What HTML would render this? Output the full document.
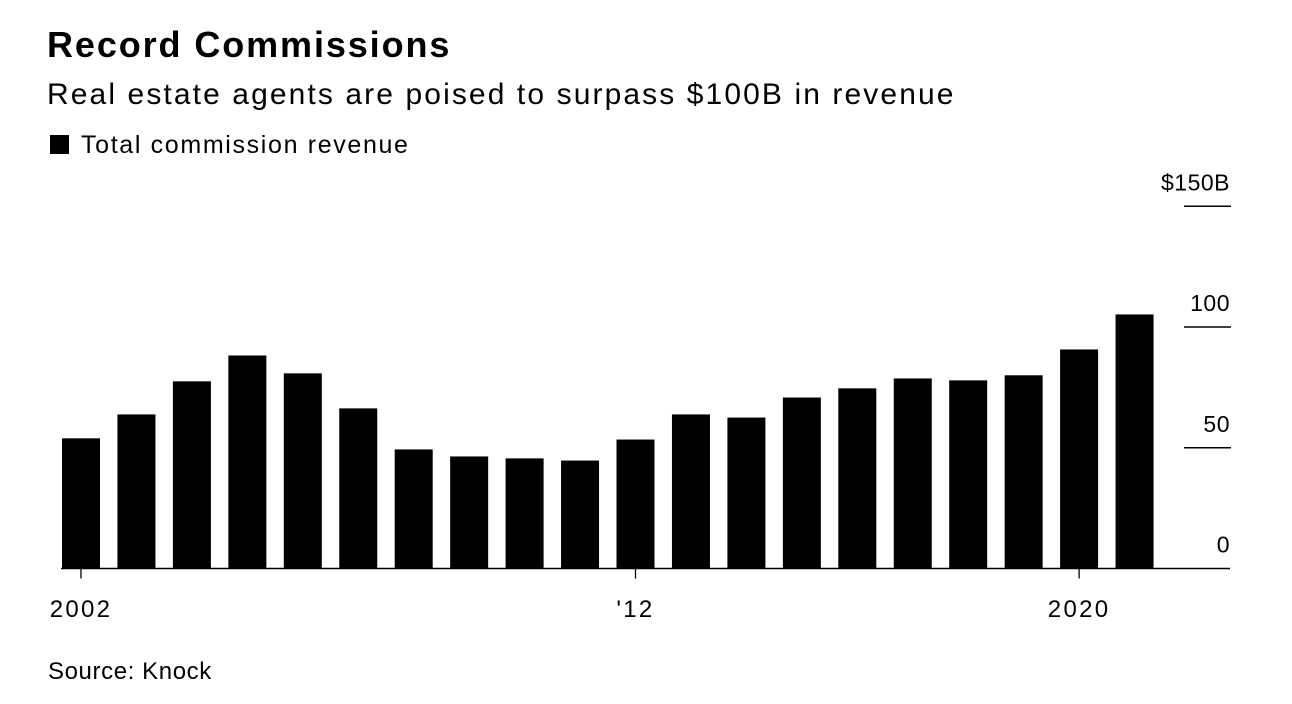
<!DOCTYPE html>
<html><head><meta charset="utf-8"><style>
body{margin:0;background:#fff;font-family:"Liberation Sans",sans-serif;color:#000;}
#wrap{position:relative;width:1292px;height:704px;overflow:hidden;}
.t{position:absolute;white-space:nowrap;}
</style></head><body>
<div id="wrap">
<div class="t" style="left:47px;top:24px;font-size:36px;font-weight:bold;letter-spacing:1.9px;">Record Commissions</div>
<div class="t" style="left:47px;top:78px;font-size:30px;letter-spacing:2.1px;">Real estate agents are poised to surpass $100B in revenue</div>
<div class="t" style="left:50px;top:131px;font-size:25px;letter-spacing:1.65px;"><span style="display:inline-block;width:19px;height:19px;background:#000;margin-right:12px;vertical-align:-1px;"></span>Total commission revenue</div>
<svg id="chart" width="1292" height="704" style="position:absolute;left:0;top:0"></svg>
<div class="t" style="left:48px;top:658px;font-size:24px;letter-spacing:0.6px;">Source: Knock</div>
</div>
<script>
const years=[2002,2003,2004,2005,2006,2007,2008,2009,2010,2011,2012,2013,2014,2015,2016,2017,2018,2019,2020,2021];
const revenue=[53.9,63.8,77.5,88.2,80.8,66.3,49.3,46.4,45.6,44.7,53.4,63.8,62.5,70.8,74.6,78.7,77.9,80,90.7,105.2];
const yTicks=[0,50,100,150];
const yTickLabels=["0","50","100","$150B"];
const xTickYears=[2002,2012,2020];
const xTickLabels=["2002","'12","2020"];
const NS="http://www.w3.org/2000/svg";
const svg=document.getElementById('chart');
const y0=568.5, pxPer=2.415;
const yScale=v=>y0-v*pxPer;
const xScale=yr=>81+(yr-2002)*55.45;
const bw=38;
function mk(tag,attrs){const e=document.createElementNS(NS,tag);for(const k in attrs)e.setAttribute(k,attrs[k]);svg.appendChild(e);return e;}
years.forEach((yr,i)=>{
 const r=mk('rect',{x:xScale(yr)-bw/2,y:yScale(revenue[i]),width:bw,height:y0-yScale(revenue[i]),fill:'#000'});
 
 
});
yTicks.forEach((v,i)=>{
 if(v>0){const l=mk('line',{x1:1184,x2:1231,y1:yScale(v),y2:yScale(v),stroke:'#000','stroke-width':1.5});
 
 }
 const t=mk('text',{x:1230,y:yScale(v)-16,'text-anchor':'end','font-size':23,'letter-spacing':0.5,'font-family':'Liberation Sans, sans-serif'});
 t.textContent=yTickLabels[i];
 
 
});
const ax=mk('line',{x1:61,x2:1230,y1:y0,y2:y0,stroke:'#000','stroke-width':1.5});


xTickYears.forEach((yr,i)=>{
 const tk=mk('line',{x1:xScale(yr),x2:xScale(yr),y1:y0,y2:y0+10,stroke:'#000','stroke-width':1.3});
 
 
 const t=mk('text',{x:xScale(yr),y:617,'text-anchor':'middle','font-size':24,'letter-spacing':2.3,'font-family':'Liberation Sans, sans-serif'});
 t.textContent=xTickLabels[i];
 
 
});
</script>
</body></html>
